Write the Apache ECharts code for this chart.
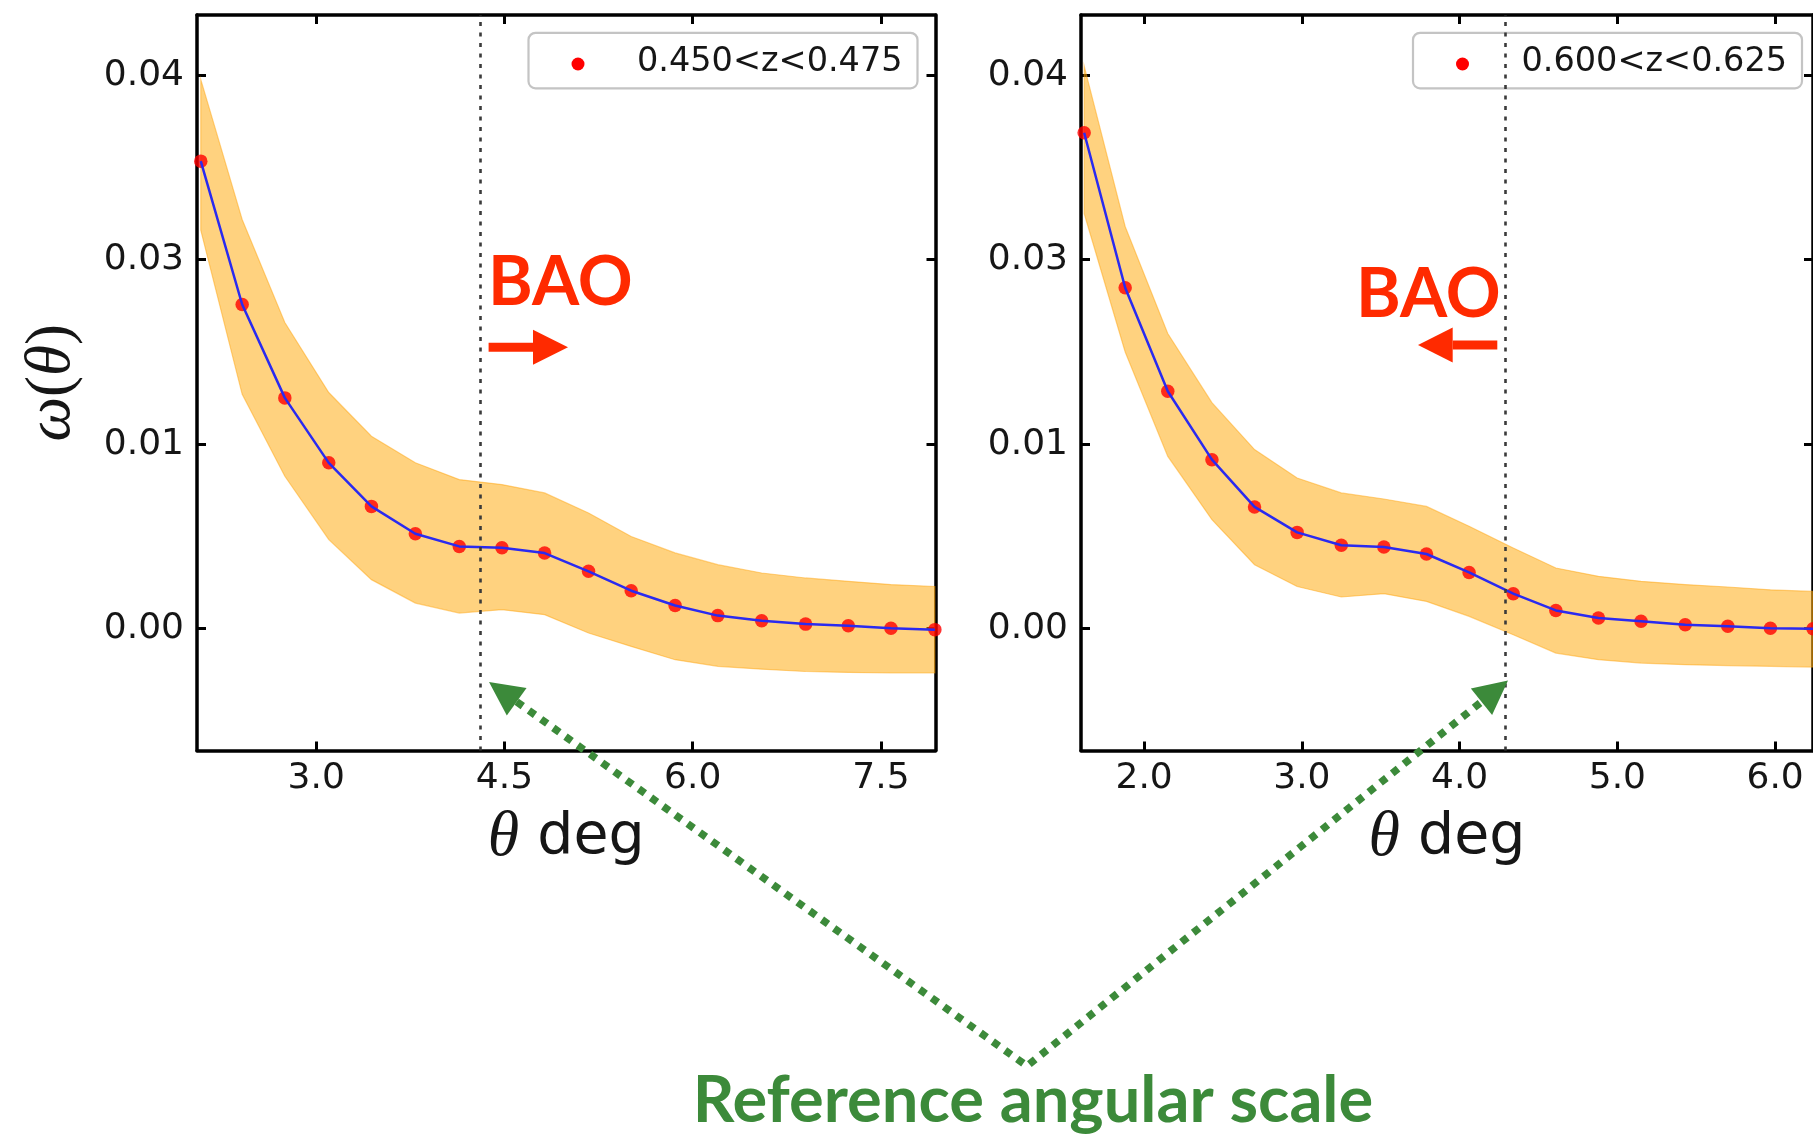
<!DOCTYPE html>
<html>
<head>
<meta charset="utf-8">
<script src="https://cdn.jsdelivr.net/npm/echarts@6/dist/echarts.min.js"></script>
<style>
  html, body { margin: 0; padding: 0; background: #ffffff; }
  #chart { width: 1813px; height: 1139px; }
</style>
</head>
<body>
<div id="chart"></div>
<script>
// ---- angular correlation, slice 0.450<z<0.475 ----
const thetaLow = [2.08, 2.41, 2.75, 3.10, 3.44, 3.79, 4.14, 4.48, 4.82, 5.17, 5.51, 5.86, 6.20, 6.55, 6.90, 7.24, 7.58, 7.93];
const omegaLow = [0.02534, 0.01757, 0.01251, 0.00899, 0.00663, 0.00515, 0.00446, 0.00439, 0.00410, 0.00311, 0.00206, 0.00126, 0.00071, 0.00043, 0.00025, 0.00016, 0.00002, -0.00005];
const upperLow = [0.02977, 0.02218, 0.01659, 0.01280, 0.01043, 0.00899, 0.00808, 0.00781, 0.00736, 0.00627, 0.00500, 0.00411, 0.00347, 0.00302, 0.00275, 0.00257, 0.00239, 0.00229];
const lowerLow = [0.02160, 0.01270, 0.00826, 0.00483, 0.00266, 0.00139, 0.00085, 0.00103, 0.00076, -0.00023, -0.00096, -0.00168, -0.00204, -0.00219, -0.00232, -0.00237, -0.00240, -0.00240];

// ---- angular correlation, slice 0.600<z<0.625 ----
const thetaHigh = [1.62, 1.88, 2.15, 2.43, 2.70, 2.97, 3.25, 3.52, 3.79, 4.06, 4.34, 4.61, 4.88, 5.15, 5.43, 5.70, 5.97, 6.24];
const omegaHigh = [0.02688, 0.01848, 0.01287, 0.00916, 0.00660, 0.00522, 0.00452, 0.00443, 0.00405, 0.00305, 0.00190, 0.00099, 0.00058, 0.00040, 0.00022, 0.00013, 0.00002, 0.00000];
const upperHigh = [0.03050, 0.02180, 0.01600, 0.01225, 0.00971, 0.00817, 0.00736, 0.00703, 0.00663, 0.00555, 0.00437, 0.00329, 0.00284, 0.00257, 0.00239, 0.00226, 0.00211, 0.00202];
const lowerHigh = [0.02250, 0.01500, 0.00934, 0.00591, 0.00347, 0.00229, 0.00172, 0.00190, 0.00148, 0.00067, -0.00033, -0.00132, -0.00168, -0.00186, -0.00195, -0.00200, -0.00204, -0.00208];

// slice labels and reference angular scale (deg) per slice
const sliceLabels = ['0.450<z<0.475', '0.600<z<0.625'];
const refScale = [4.31, 4.29];

// axis extents and ticks
const xRangeLow = [2.05, 7.935];
const xRangeHigh = [1.60, 6.24];
const yRange = [-0.0066, 0.03326];
const xTicksLow = [3.0, 4.5, 6.0, 7.5];
const xTicksHigh = [2.0, 3.0, 4.0, 5.0, 6.0];
const yTickValues = [0, 0.01, 0.02, 0.03];
const yTickLabels = ['0.00', '0.01', '0.03', '0.04'];

const INK = '#161616';
const AXIS = '#000000';
const RED_NOTE = '#ff2a00';
const GREEN_NOTE = '#3c8a3a';

const chart = echarts.init(document.getElementById('chart'), null, { renderer: 'canvas' });

const grids = [
  { left: 197, top: 15, width: 738.5, height: 735.5 },
  { left: 1081, top: 15, width: 739, height: 735.5 }
];

const lineStyleAxis = { color: AXIS, width: 3.5 };
const tickStyle = { color: AXIS, width: 3 };

function xAxesFor(gridIndex, range, ticks) {
  const common = {
    type: 'value', gridIndex: gridIndex, min: range[0], max: range[1],
    axisLine: { show: true, onZero: false, lineStyle: lineStyleAxis },
    axisTick: { show: true, inside: true, length: 9, customValues: ticks, lineStyle: tickStyle },
    splitLine: { show: false }
  };
  return [
    Object.assign({}, common, {
      position: 'bottom',
      axisLabel: {
        customValues: ticks, formatter: v => v.toFixed(1),
        fontFamily: 'DejaVu Sans', fontSize: 36, color: INK, margin: 10
      },
      name: '{t|θ} deg',
      nameLocation: 'middle',
      nameGap: 56,
      nameTextStyle: {
        fontFamily: 'DejaVu Sans', fontSize: 57, color: INK,
        rich: { t: { fontFamily: 'Liberation Serif', fontStyle: 'italic', fontSize: 64, color: INK } }
      }
    }),
    Object.assign({}, common, { position: 'top', axisLabel: { show: false } })
  ];
}

function yAxesFor(gridIndex, withName) {
  const common = {
    type: 'value', gridIndex: gridIndex, min: yRange[0], max: yRange[1],
    axisLine: { show: true, onZero: false, lineStyle: lineStyleAxis },
    axisTick: { show: true, inside: true, length: 9, customValues: yTickValues, lineStyle: tickStyle },
    splitLine: { show: false }
  };
  const left = Object.assign({}, common, {
    position: 'left',
    axisLabel: {
      customValues: yTickValues,
      formatter: v => yTickLabels[Math.round(v * 100)],
      fontFamily: 'DejaVu Sans', fontSize: 36, color: INK, margin: 13
    }
  });
  if (withName) {
    Object.assign(left, {
      name: '{m|ω}{p|(}{m|θ}{p|)}',
      nameLocation: 'middle',
      nameGap: 113,
      nameTextStyle: {
        color: INK,
        rich: {
          m: { fontFamily: 'Liberation Serif', fontStyle: 'italic', fontSize: 63, color: INK },
          p: { fontFamily: 'Liberation Serif', fontSize: 63, color: INK }
        }
      }
    });
  }
  return [left, Object.assign({}, common, { position: 'right', axisLabel: { show: false } })];
}

function bandSeries(xIdx, yIdx, theta, upper, lower) {
  return {
    type: 'custom', xAxisIndex: xIdx, yAxisIndex: yIdx, silent: true, clip: true, z: 1,
    data: [[theta[0], upper[0]]],
    renderItem: function (params, api) {
      const pts = [];
      for (let i = 0; i < theta.length; i++) pts.push(api.coord([theta[i], upper[i]]));
      for (let i = theta.length - 1; i >= 0; i--) pts.push(api.coord([theta[i], lower[i]]));
      return {
        type: 'polygon', shape: { points: pts },
        style: { fill: 'rgba(255,165,0,0.5)', stroke: 'rgba(255,160,0,0.45)', lineWidth: 1.2 }
      };
    }
  };
}

function pairs(xs, ys) { return xs.map((x, i) => [x, ys[i]]); }

function panelSeries(xIdx, yIdx, theta, omega, upper, lower, name, ref) {
  return [
    bandSeries(xIdx, yIdx, theta, upper, lower),
    {
      type: 'scatter', name: name, xAxisIndex: xIdx, yAxisIndex: yIdx, silent: true, z: 3,
      data: pairs(theta, omega), symbolSize: 13.5, itemStyle: { color: '#ff0000' }
    },
    {
      type: 'line', xAxisIndex: xIdx, yAxisIndex: yIdx, silent: true, z: 4,
      data: pairs(theta, omega), symbol: 'none', smooth: false,
      lineStyle: { color: '#2a2af0', width: 2.5 },
      markLine: {
        silent: true, symbol: ['none', 'none'], label: { show: false },
        lineStyle: { type: [4, 6.5], color: '#3a3a3a', width: 2.6 },
        emphasis: { disabled: true },
        data: [{ xAxis: ref }]
      }
    }
  ];
}

// legend box drawn as a small group per panel
function legendBox(x, y, label) {
  return {
    type: 'group', x: x, y: y, z: 100, silent: true,
    children: [
      { type: 'rect', shape: { x: 0, y: 0, width: 389, height: 55.5, r: 7 },
        style: { fill: 'rgba(255,255,255,0.8)', stroke: '#c4c4c4', lineWidth: 2.2 } },
      { type: 'circle', shape: { cx: 49.5, cy: 31.2, r: 6.5 }, style: { fill: '#ff0000' } },
      { type: 'text', x: 108.5, y: 29.3,
        style: { text: label, fontFamily: 'DejaVu Sans', fontSize: 33.5, fill: INK,
                 verticalAlign: 'middle', align: 'left' } }
    ]
  };
}

function redArrow(x0, x1, tip, y) {
  return [
    { type: 'line', z: 100, silent: true, shape: { x1: x0, y1: y, x2: x1, y2: y },
      style: { stroke: RED_NOTE, lineWidth: 9 } },
    { type: 'polygon', z: 100, silent: true,
      shape: { points: [[x1, y - 17.5], [x1, y + 17.5], [tip, y]] }, style: { fill: RED_NOTE } }
  ];
}

// green pointers from the caption to each reference line
const apex = [1027, 1066];
const tips = [[489, 682], [1508, 680.5]];
function headAndBase(tip) {
  const dx = tip[0] - apex[0], dy = tip[1] - apex[1];
  const len = Math.hypot(dx, dy);
  const ux = dx / len, uy = dy / len;
  const bx = tip[0] - 34 * ux, by = tip[1] - 34 * uy;
  const nx = -uy, ny = ux;
  return {
    base: [bx, by],
    head: [[tip[0], tip[1]], [bx + 17 * nx, by + 17 * ny], [bx - 17 * nx, by - 17 * ny]]
  };
}
const hl = headAndBase(tips[0]);
const hr = headAndBase(tips[1]);

const graphics = [
  legendBox(528.5, 32.8, sliceLabels[0]),
  legendBox(1413, 32.8, sliceLabels[1]),
  { type: 'text', x: 488, y: 283, z: 100, silent: true,
    style: { text: 'BAO', fontFamily: 'Lato', fontWeight: 'bold', fontSize: 68, fill: RED_NOTE, verticalAlign: 'middle' } },
  { type: 'text', x: 1356, y: 295, z: 100, silent: true,
    style: { text: 'BAO', fontFamily: 'Lato', fontWeight: 'bold', fontSize: 68, fill: RED_NOTE, verticalAlign: 'middle' } }
]
  .concat(redArrow(488.6, 533, 568, 347.3))
  .concat(redArrow(1497.3, 1452.7, 1418, 345))
  .concat([
    { type: 'polyline', z: 100, silent: true,
      shape: { points: [hl.base, apex, hr.base] },
      style: { stroke: GREEN_NOTE, lineWidth: 7.5, lineDash: [7.5, 7.5], fill: null, lineJoin: 'miter' } },
    { type: 'polygon', z: 100, silent: true, shape: { points: hl.head }, style: { fill: GREEN_NOTE } },
    { type: 'polygon', z: 100, silent: true, shape: { points: hr.head }, style: { fill: GREEN_NOTE } },
    { type: 'text', x: 1033, y: 1101, z: 100, silent: true,
      style: { text: 'Reference angular scale', fontFamily: 'Lato', fontWeight: 'bold', fontSize: 65,
               fill: GREEN_NOTE, align: 'center', verticalAlign: 'middle' } }
  ]);

const option = {
  backgroundColor: '#ffffff',
  animation: false,
  grid: grids,
  xAxis: xAxesFor(0, xRangeLow, xTicksLow).concat(xAxesFor(1, xRangeHigh, xTicksHigh)),
  yAxis: yAxesFor(0, true).concat(yAxesFor(1, false)),
  series: panelSeries(0, 0, thetaLow, omegaLow, upperLow, lowerLow, sliceLabels[0], refScale[0])
    .concat(panelSeries(2, 2, thetaHigh, omegaHigh, upperHigh, lowerHigh, sliceLabels[1], refScale[1])),
  graphic: graphics
};

chart.setOption(option);
</script>
</body>
</html>
